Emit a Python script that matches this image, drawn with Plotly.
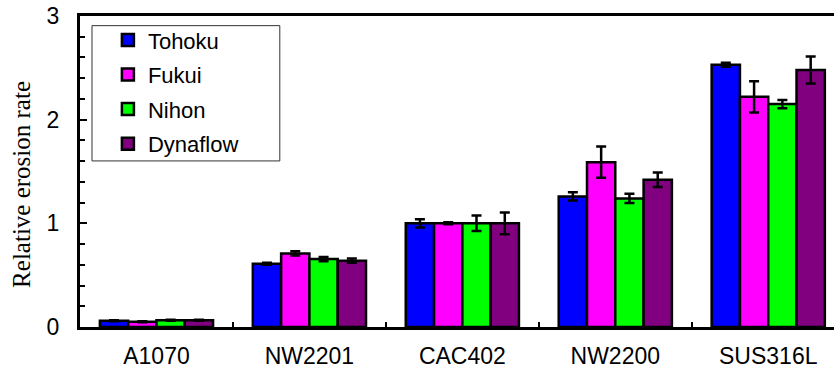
import plotly.graph_objects as go

categories = ["A1070", "NW2201", "CAC402", "NW2200", "SUS316L"]
series_names = ["Tohoku", "Fukui", "Nihon", "Dynaflow"]
tohoku = [0.06, 0.61, 1.00, 1.26, 2.53]
fukui = [0.05, 0.71, 1.00, 1.59, 2.22]
nihon = [0.065, 0.655, 1.00, 1.24, 2.15]
dynaflow = [0.065, 0.64, 1.00, 1.42, 2.48]
tohoku_err = [0.005, 0.01, 0.04, 0.04, 0.02]
fukui_err = [0.005, 0.02, 0.01, 0.15, 0.15]
nihon_err = [0.005, 0.02, 0.075, 0.045, 0.04]
dynaflow_err = [0.005, 0.02, 0.105, 0.07, 0.13]
colors = ["#0000FF", "#FF00FF", "#00FF00", "#800080"]
y_title = "Relative erosion rate"

values = [tohoku, fukui, nihon, dynaflow]
errors = [tohoku_err, fukui_err, nihon_err, dynaflow_err]

fig = go.Figure()
for name, v, e, c in zip(series_names, values, errors, colors):
    fig.add_trace(go.Bar(
        x=categories, y=v, name=name, legendgroup=name,
        marker=dict(color=c, line=dict(color="black", width=2.5)),
        error_y=dict(type="data", array=e, visible=True, color="black", thickness=2.5, width=5),
    ))

fig.update_layout(
    width=834, height=371,
    margin=dict(l=80, r=0, t=16, b=44, autoexpand=False),
    plot_bgcolor="white", paper_bgcolor="white",
    barmode="group", bargap=0.26, bargroupgap=0,
    font=dict(family="Liberation Sans, Arial", color="black"),
    legend=dict(
        x=0.037, y=0.99, xanchor="left", yanchor="top",
        borderwidth=0, bgcolor="rgba(0,0,0,0)",
        font=dict(size=22), tracegroupgap=3, itemwidth=30,
    ),
    showlegend=True,
    shapes=[dict(type="rect", xref="paper", yref="paper", x0=0.0159, x1=0.265, y0=0.534, y1=0.969,
                 line=dict(color="#333", width=1), fillcolor="white", layer="below")],
    annotations=[dict(text=y_title, xref="paper", yref="paper", x=-0.077, y=0.46,
                      xanchor="center", yanchor="middle", textangle=-90, showarrow=False,
                      font=dict(family="Liberation Serif, Times New Roman", size=25))],
)
fig.update_xaxes(
    range=[-0.5, 4.43], showline=True, linecolor="black", linewidth=3, mirror=True,
    ticks="inside", tickson="boundaries", ticklen=5, tickwidth=1.5, tickcolor="black",
    tickfont=dict(size=23), ticklabelstandoff=6, showgrid=False, automargin=False,
    ticklabeloverflow="allow",
)
fig.update_yaxes(
    range=[0, 3], dtick=1, showline=True, linecolor="black", linewidth=3, mirror=False,
    ticks="inside", ticklen=7, tickwidth=1.5, tickcolor="black",
    minor=dict(dtick=0.2, ticks="inside", ticklen=5, tickcolor="black", showgrid=False),
    tickfont=dict(size=23), ticklabelstandoff=13, showgrid=False, zeroline=False, automargin=False,
    ticklabeloverflow="allow",
)

fig.write_html(
    "out.html",
    config={"displayModeBar": False},
    post_script="document.body.style.margin='0';document.body.style.overflow='hidden';",
)
